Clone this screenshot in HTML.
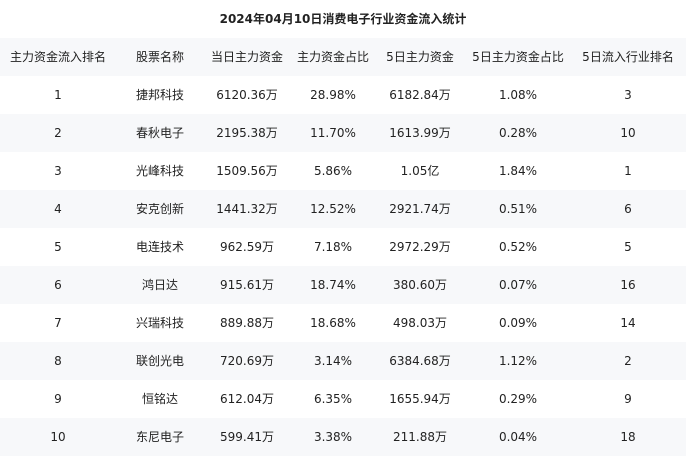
<!DOCTYPE html>
<html><head><meta charset="utf-8"><style>
body{margin:0;width:686px;height:448px;overflow:hidden;background:#fff;font-family:"DejaVu Sans","Noto Sans CJK SC",sans-serif;color:#222;}
.t{position:absolute;top:10px;left:0;width:686px;text-align:center;font-weight:bold;font-size:12px;}
.r{position:absolute;left:0;width:686px;height:38px;}
.r span{position:absolute;top:0;line-height:38px;font-size:12px;transform:translateX(-50%);white-space:nowrap;}
.g{background:#f7f8fa;}
</style></head><body>
<div class="t">2024年04月10日消费电子行业资金流入统计</div>
<div id="tb"></div>
<script>
const cx=[58,160,247,333,420,518,628];
const rows=[["主力资金流入排名","股票名称","当日主力资金","主力资金占比","5日主力资金","5日主力资金占比","5日流入行业排名"],
["1","捷邦科技","6120.36万","28.98%","6182.84万","1.08%","3"],
["2","春秋电子","2195.38万","11.70%","1613.99万","0.28%","10"],
["3","光峰科技","1509.56万","5.86%","1.05亿","1.84%","1"],
["4","安克创新","1441.32万","12.52%","2921.74万","0.51%","6"],
["5","电连技术","962.59万","7.18%","2972.29万","0.52%","5"],
["6","鸿日达","915.61万","18.74%","380.60万","0.07%","16"],
["7","兴瑞科技","889.88万","18.68%","498.03万","0.09%","14"],
["8","联创光电","720.69万","3.14%","6384.68万","1.12%","2"],
["9","恒铭达","612.04万","6.35%","1655.94万","0.29%","9"],
["10","东尼电子","599.41万","3.38%","211.88万","0.04%","18"]];
let h="";
rows.forEach((r,i)=>{h+=`<div class="r${i%2==0?' g':''}" style="top:${38+i*38}px">`+r.map((c,j)=>`<span style="left:${cx[j]}px">${c}</span>`).join("")+"</div>";});
document.getElementById("tb").innerHTML=h;
</script>
</body></html>
